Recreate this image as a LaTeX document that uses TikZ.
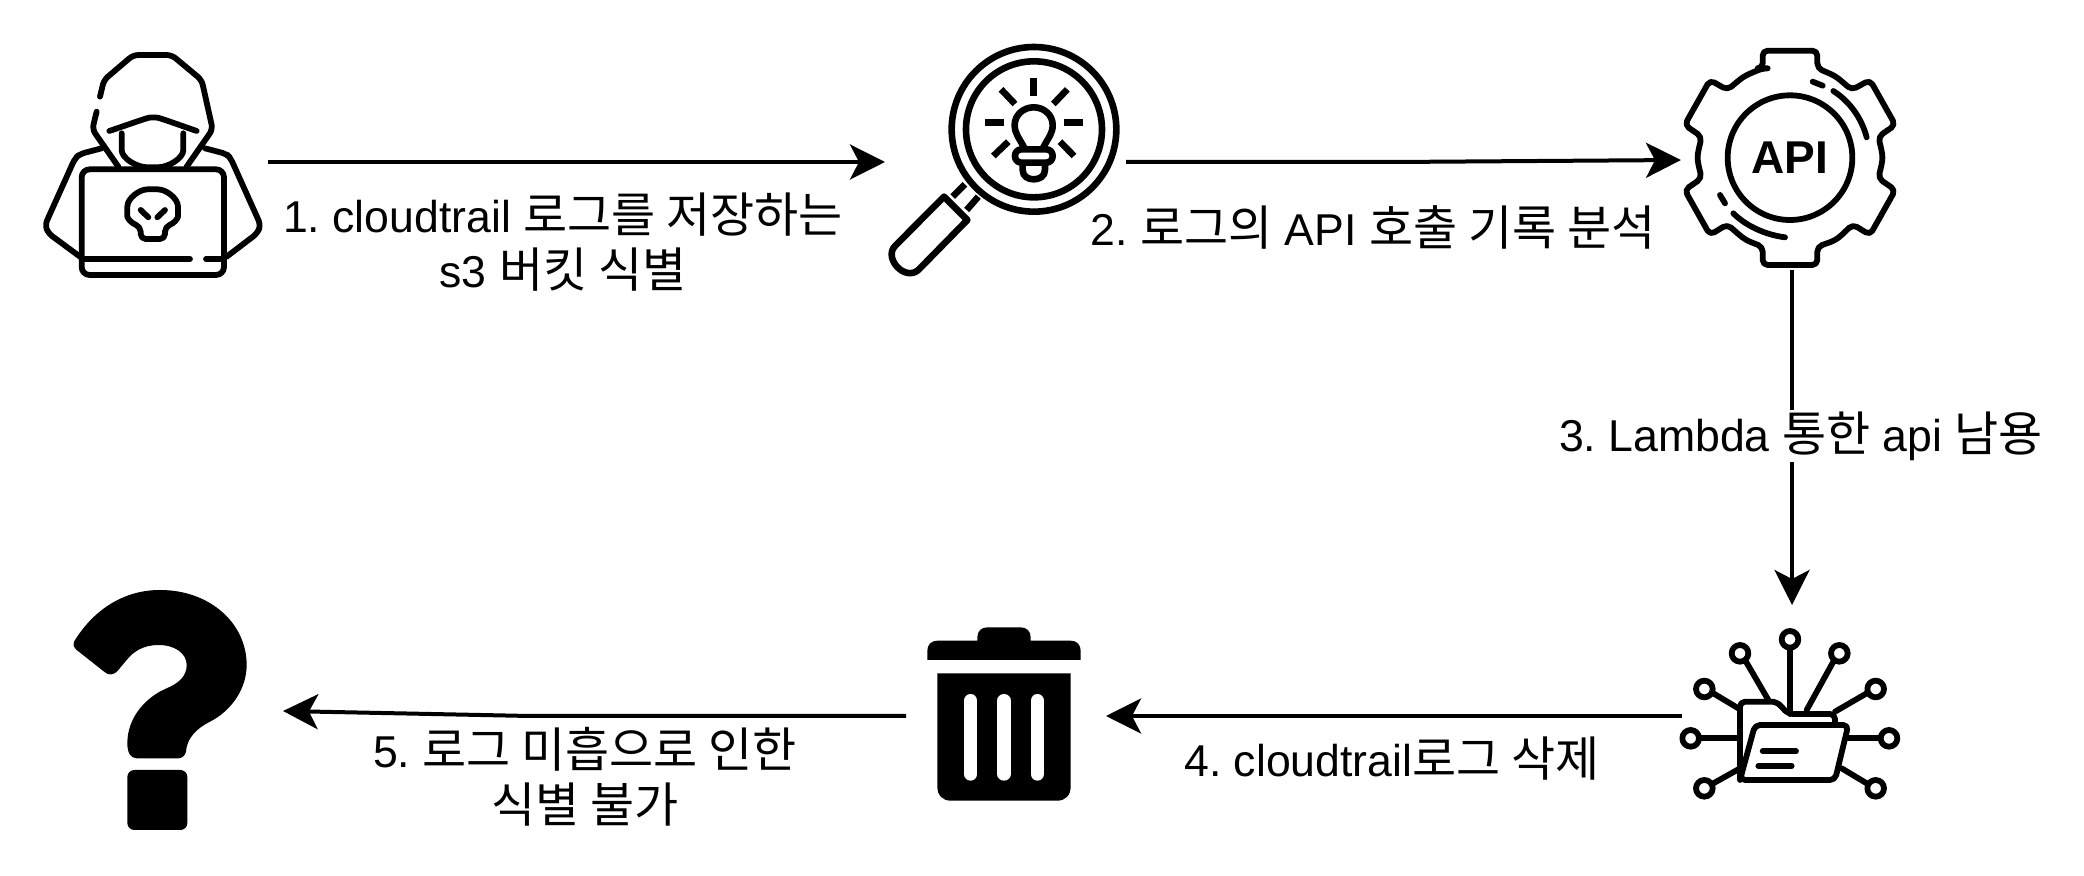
\documentclass[tikz,border=0pt]{standalone}
\usepackage{fontspec}
\setmainfont{Liberation Sans}
\newfontfamily\krf[Scale=1.075]{Noto Sans CJK KR}
\usetikzlibrary{arrows.meta}
\frenchspacing
\tikzset{
  iconbox/.style={inner sep=0pt,outer sep=0pt,minimum width=#1},
  flow/.style={line width=2pt,-{Stealth[length=17.5pt,width=17.5pt,inset=4.5pt]}},
  lbl/.style={font=\fontsize{22.3}{27.3}\selectfont,align=center,inner sep=1pt},
  ink/.style={line width=2.9pt,line cap=round,line join=round,rounded corners=2.5pt},
  thick ink/.style={line width=3.3pt,line join=round},
  solid ink/.style={fill=black,draw=none},
}
\begin{document}
\begin{tikzpicture}[x=0.5pt,y=-0.5pt]
\path[fill=white] (0,0) rectangle (2084,876);

% anchors of icons
\node[iconbox=113pt,minimum height=115pt] (hacker) at (155,162) {};
\node[iconbox=120.5pt,minimum height=116pt] (glass) at (1005.5,162) {};
\node[iconbox=111pt,minimum height=110pt] (gear) at (1792,160) {};
\node[iconbox=110pt,minimum height=111pt] (folder) at (1792,716) {};
\node[iconbox=100pt,minimum height=90pt] (trash) at (1006,716) {};
\node[iconbox=118pt,minimum height=120pt] (quest) at (165,711) {};

% hacker
\begin{scope}[shift={(20,30)},scale=1/3,ink]
\draw (240,200) -- (252,150) -- (340,75) -- (455,75) -- (545,150) -- (578,298) -- (500,410);
\draw (230,245) -- (217,298) -- (295,410);
\draw (268,303) -- (370,268) .. controls (390,262) and (410,262) .. (430,268) -- (530,303);
\draw (305,310) -- (305,345) .. controls (305,385) and (350,412) .. (398,412) .. controls (445,412) and (490,385) .. (490,345) -- (490,310);
\draw (245,355) -- (180,372) -- (165,385) -- (75,585) -- (85,610) -- (180,680);
\draw (555,355) -- (620,372) -- (632,385) -- (722,585) -- (712,610) -- (620,680);
\draw[rounded corners=4pt] (185,418) rectangle (612,735);
\draw (185,687) -- (510,687);
\draw (558,687) -- (612,687);
\draw (362,590) .. controls (335,580) and (322,565) .. (322,545) .. controls (322,505) and (358,478) .. (398,478) .. controls (438,478) and (474,505) .. (474,545) .. controls (474,565) and (462,580) .. (435,590) -- (435,627) -- (362,627) -- cycle;
\draw (362,540) -- (385,562);
\draw (435,540) -- (412,562);
\end{scope}

% magnifier
\begin{scope}[shift={(870,30)},scale=1/3]
\draw[thick ink] (492,298) circle (247);
\draw[thick ink] (492,298) circle (204);
\draw[thick ink] (491,143) -- (491,198);
\draw[thick ink] (345,277) -- (402,277);
\draw[thick ink] (582,277) -- (638,277);
\draw[thick ink] (393,178) -- (435,222);
\draw[thick ink] (592,178) -- (550,222);
\draw[thick ink] (370,378) -- (415,335);
\draw[thick ink] (612,378) -- (570,335);
\draw[thick ink] (462,352) .. controls (445,320) and (434,310) .. (434,285) .. controls (434,255) and (460,232) .. (491,232) .. controls (522,232) and (548,255) .. (548,285) .. controls (548,310) and (537,320) .. (520,352);
\draw[thick ink,rounded corners=3.2pt] (435,358) rectangle (548,398);
\draw[thick ink] (458,398) -- (458,420) .. controls (458,440) and (475,448) .. (491,448) .. controls (507,448) and (525,440) .. (525,420) -- (525,398);
\draw[thick ink] (285,463) -- (248,500);
\draw[thick ink] (325,500) -- (290,540);
\draw[thick ink] (222,500) -- (75,648) .. controls (40,685) and (105,755) .. (145,720) -- (292,570) -- cycle;
\end{scope}

% gear
\begin{scope}[shift={(1670,30)},scale=1/3,ink]
\draw (278,115) -- (278,62) -- (442,62) -- (442,115) .. controls (497,138) .. (545,180)
  -- (600,150) -- (676,285) -- (625,320) .. controls (640,383) .. (625,445)
  -- (676,480) -- (600,615) -- (548,583) .. controls (500,630) .. (442,650)
  -- (442,705) -- (278,705) -- (278,650) .. controls (225,630) .. (172,583)
  -- (120,615) -- (44,480) -- (95,445) .. controls (80,383) .. (95,320)
  -- (44,285) -- (120,150) -- (172,180) .. controls (222,138) .. cycle;
\draw (360,383) circle (187);
\draw (428,155) -- (458,167);
\draw (490,183) .. controls (540,215) and (575,265) .. (590,322);
\draw (150,495) -- (165,520);
\draw (190,550) .. controls (230,590) and (290,615) .. (345,622);
\node[inner sep=0pt,font=\bfseries\fontsize{23}{23}\selectfont] (apilabel) at (360,383) {API};
\end{scope}

% folder
\begin{scope}[shift={(1670,610)},scale=1/3,ink]
\draw (210,510) -- (210,275) -- (320,275) -- (355,312) -- (495,312) -- (495,345);
\draw (255,345) -- (535,345) -- (495,510) -- (210,510) -- cycle;
\draw (278,424) -- (378,424);
\draw (265,468) -- (365,468);
\draw (360,113) -- (360,312);
\draw (360,88) circle (25);
\draw (228,155) -- (295,270);
\draw (210,130) circle (25);
\draw (490,155) -- (410,300);
\draw (508,130) circle (25);
\draw (130,250) -- (205,295);
\draw (103,237) circle (25);
\draw (590,250) -- (495,305);
\draw (617,237) circle (25);
\draw (95,385) -- (205,385);
\draw (62,385) circle (25);
\draw (625,385) -- (530,385);
\draw (657,385) circle (25);
\draw (130,520) -- (205,478);
\draw (103,535) circle (25);
\draw (590,520) -- (515,475);
\draw (617,535) circle (25);
\end{scope}

% trash
\begin{scope}[shift={(900,610)},scale=1/3]
\fill[solid ink] (82,150) -- (82,122) .. controls (82,104) and (94,92) .. (112,92) -- (232,92) -- (232,82) .. controls (232,64) and (244,52) .. (262,52) -- (362,52) .. controls (380,52) and (392,64) .. (392,82) -- (392,92) -- (512,92) .. controls (530,92) and (542,104) .. (542,122) -- (542,150) -- cycle;
\fill[solid ink] (112,190) -- (512,190) -- (512,530) .. controls (512,556) and (496,572) .. (472,572) -- (152,572) .. controls (128,572) and (112,556) .. (112,530) -- cycle;
\draw[white,line width=6.7pt,line cap=round] (212,272) -- (212,492);
\draw[white,line width=6.7pt,line cap=round] (312,272) -- (312,492);
\draw[white,line width=6.7pt,line cap=round] (412,272) -- (412,492);
\end{scope}

% question mark
\begin{scope}[shift={(50,570)},scale=1/3]
\fill[solid ink] (72,215) .. controls (130,120) and (220,60) .. (330,60) .. controls (480,60) and (590,160) .. (590,285) .. controls (590,360) and (540,425) .. (480,455) .. controls (440,475) and (410,505) .. (408,545) .. controls (405,558) and (395,565) .. (385,565) -- (260,565) .. controls (240,565) and (232,545) .. (232,520) .. controls (232,440) and (290,380) .. (350,355) .. controls (385,340) and (410,320) .. (410,285) .. controls (410,250) and (375,225) .. (325,225) .. controls (280,225) and (250,245) .. (230,270) -- (205,300) .. controls (190,318) and (175,315) .. (165,307) -- (80,240) .. controls (70,230) and (68,222) .. (72,215) -- cycle;
\fill[solid ink,rounded corners=3.5pt] (232,600) rectangle (412,780);
\end{scope}

% connectors
\coordinate (bendtwo) at (1395,162);
\coordinate (bendfive) at (530,716);
\draw[flow] (hacker.east) -- (glass.west);
\draw[flow] (glass.east) -- (bendtwo) -- (gear.west);
\draw[flow] (gear.south) -- (folder.north);
\draw[flow] (folder.west) -- (trash.east);
\draw[flow] (trash.west) -- (bendfive) -- (quest.east);

% labels
\node[lbl] (one) at (563,242) {1. cloudtrail {\krf 로그를 저장하는}\\s3 {\krf 버킷 식별}};
\node[lbl] (two) at (1373,227) {2. {\krf 로그의} API {\krf 호출 기록 분석}};
\node[lbl,fill=white] (three) at (1801,436) {3. Lambda {\krf 통한} api {\krf 남용}};
\node[lbl] (four) at (1392,759) {4. cloudtrail{\krf 로그 삭제}};
\node[lbl] (five) at (585,777) {5. {\krf 로그 미흡으로 인한}\\{\krf 식별 불가}};
\end{tikzpicture}
\end{document}
